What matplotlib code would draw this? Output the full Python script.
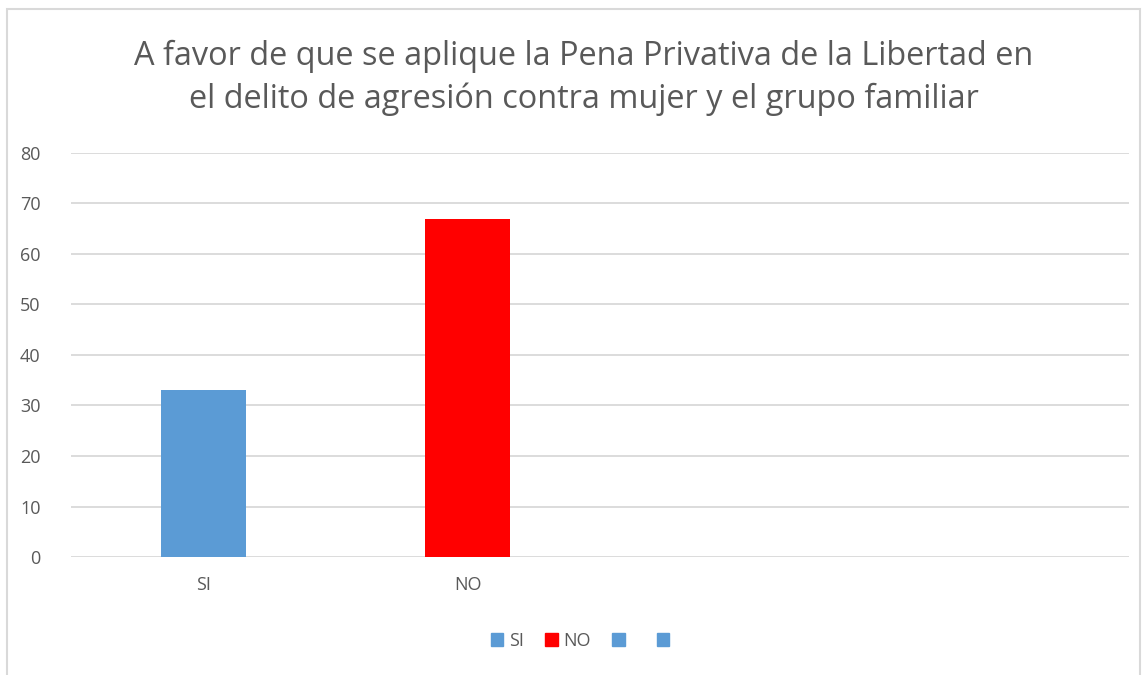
import matplotlib.pyplot as plt
from matplotlib.patches import Patch, Rectangle

# Data
categories = ["SI", "NO", "", ""]
values = [33, 67, 0, 0]
colors = ["#5B9BD5", "#FF0000", "#5B9BD5", "#5B9BD5"]
legend_labels = ["SI", "NO", " ", " "]
yticks = [0, 10, 20, 30, 40, 50, 60, 70, 80]
title = ("A favor de que se aplique la Pena Privativa de la Libertad en\n"
         "el delito de agresión contra mujer y el grupo familiar")

plt.rcParams['font.family'] = ['Open Sans', 'DejaVu Sans']
gray = "#595959"

fig = plt.figure(figsize=(11.44, 6.75), dpi=100)
ax = fig.add_axes([71 / 1144, 1 - 557 / 675, 1058 / 1144, 404 / 675])

# outer chart border
fig.patches.append(Rectangle((7 / 1144, -0.01), 1133 / 1144, 1 - 9 / 675 + 0.01,
                             transform=fig.transFigure, fill=False,
                             edgecolor="#D9D9D9", lw=1.5))

x = range(len(categories))
ax.bar(x, values, width=0.32, color=colors, zorder=3)

ax.set_xlim(-0.5, len(categories) - 0.5)
ax.set_ylim(0, 80)
ax.set_yticks(yticks)
ax.set_xticks(list(x))
ax.set_xticklabels(categories)
ax.grid(axis="y", color="#D9D9D9", lw=1.3, zorder=0)
for s in ax.spines.values():
    s.set_visible(False)
ax.tick_params(axis="both", length=0, labelsize=13, labelcolor=gray)
ax.tick_params(axis="y", pad=22)
ax.tick_params(axis="x", pad=14)

fig.text(0.51, 1 - 78 / 675, title, ha="center", va="center",
         fontsize=23.4, color=gray, linespacing=1.4)

handles = [Patch(color=c) for c in colors]
fig.legend(handles, legend_labels, loc="center", bbox_to_anchor=(585 / 1144, 1 - 641 / 675),
           ncol=4, frameon=False, fontsize=13, labelcolor=gray,
           handlelength=0.7, handleheight=0.7, handletextpad=0.3, columnspacing=1.2)

fig.savefig("out.png", dpi=100)
